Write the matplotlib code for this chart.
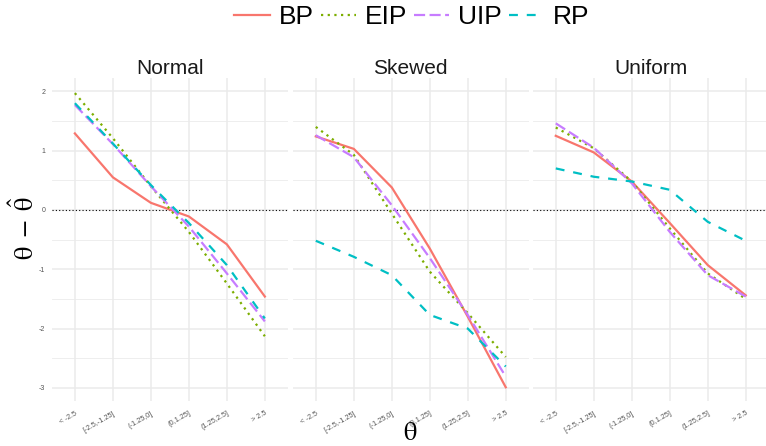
import matplotlib.pyplot as plt
import matplotlib.lines as mlines
import numpy as np

plt.rcParams['font.family'] = ['Liberation Sans', 'DejaVu Sans']
plt.rcParams['mathtext.fontset'] = 'stix'

categories = ['< -2.5', '[-2.5,-1.25]', '(-1.25,0]', '(0,1.25]', '(1.25,2.5]', '> 2.5']
panels = ['Normal', 'Skewed', 'Uniform']
methods = ['BP', 'EIP', 'UIP', 'RP']

# theta - theta_hat per panel, one list per method
normal = {
    'BP':  [1.29, 0.55, 0.12, -0.11, -0.58, -1.46],
    'EIP': [1.97, 1.21, 0.40, -0.37, -1.24, -2.13],
    'UIP': [1.77, 1.11, 0.40, -0.28, -1.07, -1.88],
    'RP':  [1.80, 1.12, 0.42, -0.22, -0.93, -1.83],
}
skewed = {
    'BP':  [1.24, 1.03, 0.38, -0.65, -1.80, -2.99],
    'EIP': [1.40, 0.93, -0.06, -1.04, -1.74, -2.48],
    'UIP': [1.26, 0.89, 0.08, -0.81, -1.77, -2.81],
    'RP':  [-0.52, -0.79, -1.10, -1.77, -2.00, -2.64],
}
uniform = {
    'BP':  [1.25, 0.97, 0.48, -0.22, -0.93, -1.44],
    'EIP': [1.39, 1.04, 0.48, -0.31, -1.07, -1.50],
    'UIP': [1.46, 1.05, 0.45, -0.37, -1.10, -1.46],
    'RP':  [0.70, 0.56, 0.48, 0.34, -0.20, -0.52],
}
data = [normal, skewed, uniform]

colors = {'BP': '#F8766D', 'EIP': '#7CAE00', 'UIP': '#C77CFF', 'RP': '#00BFC4'}
styles = {'BP': '-', 'EIP': (0, (1, 2)), 'UIP': (0, (5, 2)), 'RP': (0, (4, 4))}

fig = plt.figure(figsize=(7.66, 4.46), dpi=100)
lefts = [0.068, 0.3825, 0.6958]
width = 0.3075
x = np.arange(len(categories))

for k, name in enumerate(panels):
    ax = fig.add_axes([lefts[k], 0.0998, width, 0.726])
    ax.set_xlim(-0.6, len(categories) - 0.4)
    ax.set_ylim(-3.23, 2.23)
    for s in ax.spines.values():
        s.set_visible(False)
    ax.set_yticks([-3, -2, -1, 0, 1, 2])
    ax.set_yticks([-2.5, -1.5, -0.5, 0.5, 1.5], minor=True)
    ax.set_xticks(x)
    ax.grid(True, which='major', color='#EBEBEB', linewidth=1.1)
    ax.grid(True, which='minor', axis='y', color='#EBEBEB', linewidth=0.6)
    ax.set_axisbelow(True)
    ax.tick_params(length=0, which='both')
    ax.set_xticklabels(categories, rotation=30, ha='right', rotation_mode='anchor',
                       fontsize=5.3, color='#555555')
    if k == 0:
        ax.set_yticklabels(['-3', '-2', '-1', '0', '1', '2'], fontsize=5, color='#555555')
        ax.tick_params(axis='y', pad=5)
    else:
        ax.set_yticklabels([])
    ax.tick_params(axis='x', pad=6)
    ax.axhline(0, color='black', linestyle=(0, (1, 2)), linewidth=0.8, zorder=1)
    d = data[k]
    for m in methods:
        ax.plot(x, d[m], color=colors[m], linestyle=styles[m], linewidth=1.6, zorder=3)
    ax.set_title(name, fontsize=15, color='#1a1a1a', pad=3)

fig.text(0.032, 0.489, r'$\mathrm{\theta}\;-\;\hat{\mathrm{\theta}}$', rotation=90,
         fontsize=19, ha='center', va='center')
fig.text(0.536, 0.03, r'$\mathrm{\theta}$', fontsize=19, ha='center', va='center')

handles = [mlines.Line2D([], [], color=colors[m], linestyle=styles[m], linewidth=1.6)
           for m in methods]
fig.legend(handles, methods, loc='center', bbox_to_anchor=(0.538, 0.962), ncol=4,
           frameon=False, fontsize=19, handlelength=1.33, handletextpad=0.34,
           columnspacing=0.27, borderaxespad=0)

fig.savefig('out.png', dpi=100)
